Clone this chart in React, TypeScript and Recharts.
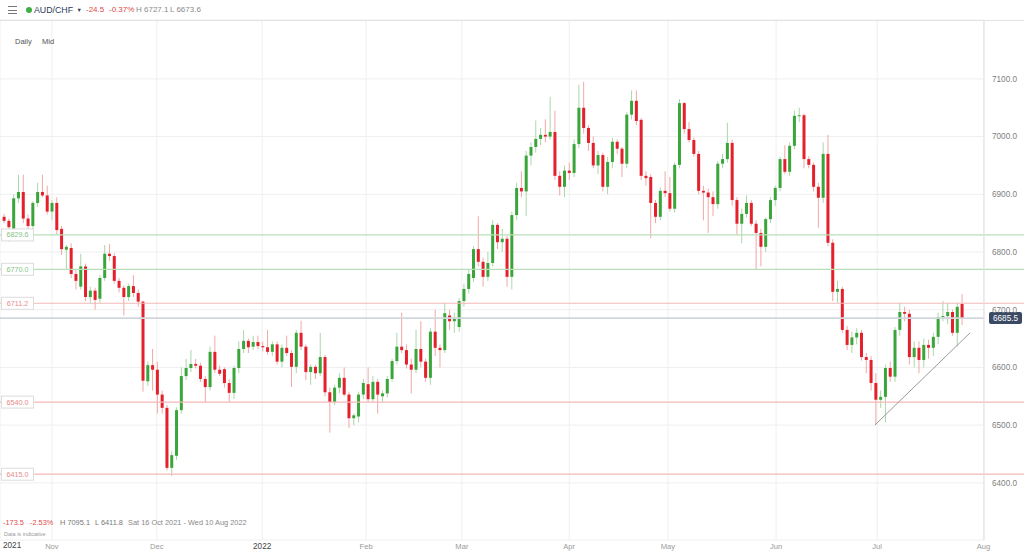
import React from 'react';
import { ComposedChart, Bar, XAxis, YAxis, CartesianGrid, ReferenceLine } from 'recharts';

// daily candles [open, high, low, close], one per trading day, Oct 18 2021 -> Jul 26 2022
const octCandles = [
    [6861, 6866, 6850, 6854], [6854, 6858, 6818, 6843], [6840, 6900, 6835, 6893], [6893, 6934, 6885, 6904],
    [6904, 6934, 6850, 6858], [6858, 6865, 6838, 6845], [6845, 6888, 6840, 6885], [6885, 6920, 6878, 6904],
    [6904, 6934, 6895, 6898], [6898, 6915, 6865, 6870],
];
const novCandles = [
    [6870, 6890, 6855, 6885], [6885, 6895, 6830, 6838], [6840, 6845, 6795, 6805], [6804, 6812, 6769, 6809],
    [6807, 6815, 6755, 6762], [6762, 6770, 6735, 6750], [6740, 6797, 6735, 6775], [6775, 6780, 6715, 6722],
    [6722, 6740, 6712, 6733], [6733, 6738, 6700, 6717], [6719, 6760, 6712, 6755], [6755, 6812, 6750, 6797],
    [6797, 6814, 6785, 6793], [6793, 6798, 6745, 6750], [6750, 6755, 6730, 6738], [6738, 6742, 6690, 6722],
    [6722, 6745, 6715, 6741], [6741, 6760, 6722, 6729], [6729, 6735, 6705, 6714], [6714, 6716, 6558, 6577],
    [6576, 6610, 6568, 6604], [6604, 6632, 6560, 6596],
];
const decCandles = [
    [6596, 6610, 6520, 6553], [6553, 6560, 6520, 6530], [6530, 6535, 6422, 6426], [6426, 6455, 6412, 6448],
    [6447, 6531, 6440, 6526], [6526, 6600, 6520, 6585], [6585, 6615, 6578, 6599], [6599, 6630, 6592, 6606],
    [6606, 6615, 6598, 6603], [6603, 6608, 6575, 6580], [6580, 6585, 6540, 6566], [6566, 6636, 6560, 6627],
    [6627, 6655, 6590, 6596], [6596, 6603, 6585, 6589], [6597, 6600, 6565, 6573], [6573, 6580, 6540, 6556],
    [6556, 6603, 6545, 6599], [6599, 6645, 6590, 6632], [6632, 6665, 6625, 6646], [6646, 6650, 6625, 6635],
    [6636, 6655, 6630, 6644], [6644, 6655, 6632, 6637],
];
const janCandles = [
    [6637, 6645, 6628, 6635], [6635, 6665, 6622, 6627], [6627, 6645, 6620, 6640], [6640, 6645, 6605, 6610],
    [6610, 6640, 6600, 6634], [6634, 6655, 6620, 6625], [6625, 6630, 6566, 6601], [6601, 6665, 6590, 6660],
    [6660, 6681, 6630, 6636], [6636, 6640, 6578, 6592], [6592, 6605, 6570, 6601], [6601, 6605, 6580, 6590],
    [6590, 6660, 6585, 6618], [6618, 6622, 6550, 6557], [6557, 6565, 6487, 6540], [6540, 6570, 6535, 6565],
    [6565, 6590, 6555, 6582], [6582, 6600, 6550, 6553], [6553, 6558, 6495, 6512], [6512, 6520, 6500, 6517],
    [6515, 6558, 6505, 6553], [6553, 6580, 6545, 6573],
];
const febCandles = [
    [6571, 6600, 6540, 6545], [6545, 6585, 6540, 6575], [6575, 6580, 6520, 6553], [6550, 6560, 6540, 6555],
    [6555, 6585, 6548, 6580], [6580, 6615, 6575, 6611], [6611, 6660, 6605, 6636], [6636, 6695, 6625, 6630],
    [6630, 6640, 6598, 6605], [6605, 6615, 6555, 6596], [6596, 6665, 6590, 6632], [6632, 6680, 6600, 6610],
    [6610, 6615, 6575, 6582], [6582, 6668, 6570, 6662], [6662, 6700, 6620, 6634], [6634, 6640, 6600, 6630],
    [6630, 6712, 6625, 6694],
];
const marCandles = [
    [6690, 6700, 6665, 6680], [6680, 6695, 6660, 6686], [6670, 6720, 6662, 6715], [6715, 6745, 6705, 6736],
    [6736, 6770, 6728, 6762], [6755, 6810, 6748, 6805], [6805, 6862, 6775, 6783], [6783, 6790, 6740, 6757],
    [6757, 6800, 6750, 6781], [6781, 6855, 6775, 6847], [6847, 6850, 6805, 6817], [6817, 6840, 6800, 6823],
    [6823, 6828, 6740, 6757], [6757, 6870, 6735, 6864], [6864, 6920, 6855, 6911], [6911, 6940, 6895, 6905],
    [6905, 6975, 6862, 6967], [6967, 6990, 6950, 6982], [6982, 7028, 6972, 6996], [6996, 7015, 6985, 7003],
    [7003, 7030, 6990, 7000], [7000, 7069, 6995, 7008], [7008, 7045, 6925, 6932], [6932, 6940, 6898, 6913],
    [6913, 6950, 6895, 6941],
];
const aprCandles = [
    [6941, 6955, 6925, 6937], [6937, 6995, 6930, 6987], [6987, 7090, 6980, 7050], [7050, 7095.1, 7005, 7015],
    [7015, 7020, 6975, 6989], [6989, 7000, 6945, 6950], [6950, 6975, 6935, 6968], [6968, 6972, 6905, 6913],
    [6913, 6965, 6900, 6956], [6956, 6998, 6945, 6991], [6991, 6995, 6970, 6979], [6979, 6982, 6930, 6953],
    [6953, 7042, 6945, 7038], [7038, 7080, 7030, 7062], [7062, 7080, 7020, 7027], [7029, 7032, 6925, 6932],
    [6932, 6940, 6915, 6928], [6930, 6935, 6824, 6885], [6885, 6890, 6850, 6861], [6861, 6912, 6855, 6906],
    [6906, 6940, 6895, 6902],
];
const mayCandles = [
    [6902, 6930, 6870, 6875], [6875, 6955, 6868, 6951], [6951, 7065, 6945, 7058], [7058, 7060, 7005, 7013],
    [7013, 7025, 6990, 6994], [6994, 6998, 6965, 6970], [6970, 6975, 6900, 6906], [6906, 6915, 6855, 6903],
    [6903, 6910, 6833, 6895], [6895, 6905, 6862, 6883], [6883, 6958, 6875, 6953], [6953, 6970, 6945, 6961],
    [6961, 7024, 6955, 6989], [6989, 6995, 6880, 6890], [6890, 6895, 6830, 6849], [6849, 6875, 6815, 6866],
    [6866, 6898, 6860, 6885], [6885, 6890, 6845, 6849], [6849, 6855, 6770, 6833], [6833, 6840, 6775, 6809],
    [6809, 6860, 6800, 6857],
];
const junCandles = [
    [6857, 6895, 6850, 6890], [6890, 6915, 6880, 6911], [6911, 6965, 6905, 6961], [6961, 6985, 6935, 6939],
    [6939, 6990, 6932, 6984], [6984, 7045, 6978, 7036], [7036, 7050, 7025, 7037], [7037, 7040, 6945, 6961],
    [6961, 6966, 6945, 6951], [6951, 6955, 6905, 6913], [6913, 6920, 6842, 6894], [6894, 6990, 6885, 6970],
    [6970, 7003, 6810, 6816], [6816, 6822, 6715, 6731], [6731, 6750, 6712, 6736], [6736, 6740, 6660, 6665],
    [6665, 6672, 6630, 6639], [6639, 6662, 6625, 6652], [6652, 6668, 6640, 6660], [6660, 6665, 6612, 6618],
    [6618, 6625, 6590, 6613], [6613, 6620, 6560, 6573], [6573, 6590, 6500, 6544],
];
const julCandles = [
    [6544, 6560, 6530, 6549], [6549, 6605, 6505, 6599], [6599, 6610, 6575, 6584], [6584, 6670, 6575, 6665],
    [6665, 6712, 6655, 6696], [6696, 6705, 6680, 6693], [6693, 6700, 6605, 6618], [6618, 6645, 6600, 6634],
    [6634, 6645, 6590, 6613], [6613, 6650, 6600, 6639], [6639, 6648, 6615, 6634], [6634, 6660, 6620, 6653],
    [6653, 6695, 6640, 6687], [6687, 6715, 6680, 6689], [6689, 6712, 6675, 6696], [6696, 6700, 6655, 6660],
    [6660, 6712, 6636, 6705], [6710, 6727.1, 6673.6, 6685.5],
];

// month boundaries, in trading-day index
const monthTicks = [10, 31.9, 53.9, 75.6, 95.6, 118, 138.6, 161.2, 182.3, 204.5];
const monthLabels = ['Nov', 'Dec', '2022', 'Feb', 'Mar', 'Apr', 'May', 'Jun', 'Jul', 'Aug'];
const priceTicks = [6400, 6500, 6600, 6700, 6800, 6900, 7000, 7100];

// horizontal levels drawn on the chart
const levelValues = [6829.6, 6770.0, 6711.2, 6540.0, 6415.0];
const levelColors = ['#b9dfb9', '#b9dfb9', '#f5b8b8', '#f5b8b8', '#f5b8b8'];
const levelTextColors = ['#86c386', '#86c386', '#e88a8a', '#e88a8a', '#e88a8a'];
const lastPrice = 6685.5;
const trendline = [{ x: 181.8, y: 6500 }, { x: 201.7, y: 6660 }];

const X_DOMAIN = [-0.835, 204.6];
const Y_DOMAIN = [6301, 7202];

const UP = '#3aa53a';
const DOWN = '#e3202b';
const UP_WICK = '#a9d8a9';
const DOWN_WICK = '#f2a7a7';

const candles = [octCandles, novCandles, decCandles, janCandles, febCandles, marCandles,
    aprCandles, mayCandles, junCandles, julCandles]
    .flat()
    .map(([o, h, l, c], i) => ({ i, o, h, l, c, range: [l, h] }));

const Candle = (props: any) => {
    const { x, y, width, height, payload } = props;
    const { o, h, l, c } = payload;
    const top = Math.min(y, y + height);
    const full = Math.abs(height);
    const ratio = h === l ? 0 : full / (h - l);
    const up = c >= o;
    const bodyTop = top + (h - Math.max(o, c)) * ratio;
    const bodyH = Math.max(1, Math.abs(o - c) * ratio);
    const cx = x + width / 2;
    return (
        <g>
            <line x1={cx} x2={cx} y1={top} y2={top + full} stroke={up ? UP_WICK : DOWN_WICK} strokeWidth={1} />
            <rect x={x} y={bodyTop} width={width} height={bodyH} fill={up ? UP : DOWN} />
        </g>
    );
};

const makeTag = (text: string, color: string) => (props: any) => {
    const vb = props.viewBox || {};
    const cy = vb.y;
    return (
        <g>
            <rect x={(vb.x || 0) + 1.5} y={cy - 6} width={32} height={12} fill="#fff" stroke="#dcdcdc" />
            <text x={(vb.x || 0) + 17.5} y={cy} dy="0.35em" textAnchor="middle" fontSize={7.2} fill={color}>{text}</text>
        </g>
    );
};

const PriceBadge = (props: any) => {
    const vb = props.viewBox || {};
    const left = vb.x + vb.width + 5;
    return (
        <g>
            <rect x={left} y={vb.y - 6} width={33} height={12} rx={2} fill="#3a4964" />
            <text x={left + 16.5} y={vb.y} dy="0.35em" textAnchor="middle" fontSize={8.2} fill="#fff">{lastPrice.toFixed(1)}</text>
        </g>
    );
};

const MonthTick = (props: any) => {
    const { x, y, payload } = props;
    const k = monthTicks.indexOf(payload.value);
    const label = monthLabels[k] ?? '';
    const isYear = /^\d{4}$/.test(label);
    return (
        <text x={x} y={y} dy={9} textAnchor="middle" fontSize={isYear ? 8.2 : 7.6}
              fill={isYear ? '#444' : '#9a9a9a'}>{label}</text>
    );
};

const abs = (left: number, top: number, size: number, color: string): React.CSSProperties => ({
    position: 'absolute', left, top, fontSize: size, lineHeight: 1, color, whiteSpace: 'nowrap', zIndex: 2,
});

export default function App() {
    return (
        <div style={{
            position: 'absolute', left: 0, top: 0, width: 1024, height: 551, background: '#fff',
            overflow: 'hidden', fontFamily: 'Arial, "Liberation Sans", sans-serif'
        }}>
            {/* header */}
            <div style={{ position: 'absolute', left: 8, top: 6, width: 9, height: 1.3, background: '#777' }} />
            <div style={{ position: 'absolute', left: 8, top: 9.5, width: 9, height: 1.3, background: '#777' }} />
            <div style={{ position: 'absolute', left: 8, top: 13, width: 9, height: 1.3, background: '#777' }} />
            <div style={{ position: 'absolute', left: 25.5, top: 7, width: 6, height: 6, borderRadius: 3, background: '#3cb043' }} />
            <span style={abs(34, 5.5, 8.8, '#2c3b58')}>AUD/CHF</span>
            <span style={abs(76.5, 7.5, 5.5, '#2c3b58')}>▼</span>
            <span style={abs(86, 6, 8, '#e04a4a')}>-24.5</span>
            <span style={abs(109, 6, 8, '#e04a4a')}>-0.37%</span>
            <span style={abs(136, 6, 8, '#8a8a8a')}>H 6727.1</span>
            <span style={abs(170, 6, 8, '#8a8a8a')}>L 6673.6</span>
            <div style={{ position: 'absolute', left: 0, top: 20, width: 1024, height: 1, background: '#e2e2e2', zIndex: 2 }} />
            <span style={abs(15, 37.5, 7.5, '#555')}>Daily</span>
            <span style={abs(42, 37.5, 7.5, '#555')}>Mid</span>

            <ComposedChart width={1024} height={551} data={candles} margin={{ top: 20, right: 0, bottom: 0, left: 0 }}>
                <CartesianGrid stroke="#efefef" />
                <XAxis type="number" dataKey="i" domain={X_DOMAIN} ticks={monthTicks} allowDataOverflow
                       interval={0} axisLine={false} tickLine={false} tickSize={0} tickMargin={0}
                       height={11} tick={<MonthTick />} />
                <YAxis orientation="right" domain={Y_DOMAIN} ticks={priceTicks} allowDataOverflow
                       width={40} tickLine={false} axisLine={{ stroke: '#e4e4e4' }}
                       tick={{ fontSize: 8.2, fill: '#808080' }} tickFormatter={(v: number) => v.toFixed(1)} />
                {levelValues.map((v, k) => (
                    <ReferenceLine key={v} ifOverflow="visible"
                                   segment={[{ x: X_DOMAIN[0], y: v }, { x: 213, y: v }]}
                                   stroke={levelColors[k]} strokeWidth={1.2}
                                   label={makeTag(v.toFixed(1), levelTextColors[k])} />
                ))}
                <ReferenceLine y={lastPrice} stroke="#d2d6dd" strokeWidth={1.6} label={PriceBadge} />
                <ReferenceLine segment={trendline} stroke="#9a9a9a" strokeWidth={1} ifOverflow="visible" />
                <Bar dataKey="range" barSize={3} shape={Candle} isAnimationActive={false} />
            </ComposedChart>

            {/* footer */}
            <span style={abs(3, 518.5, 7.4, '#e04a4a')}>-173.5</span>
            <span style={abs(30, 518.5, 7.4, '#e04a4a')}>-2.53%</span>
            <span style={abs(60, 518.5, 7.4, '#777')}>H 7095.1</span>
            <span style={abs(95, 518.5, 7.4, '#777')}>L 6411.8</span>
            <span style={abs(128, 518.5, 7.4, '#888')}>Sat 16 Oct 2021 - Wed 10 Aug 2022</span>
            <span style={abs(4, 531.5, 5.5, '#999')}>Data is indicative</span>
            <span style={abs(3, 542, 8.2, '#444')}>2021</span>
        </div>
    );
}
